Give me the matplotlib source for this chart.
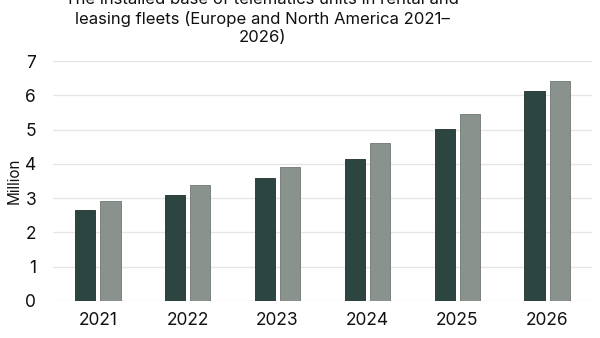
import matplotlib
matplotlib.use("Agg")
import matplotlib.pyplot as plt
import numpy as np

plt.rcParams['font.family'] = ['Inter', 'DejaVu Sans']

years = ["2021", "2022", "2023", "2024", "2025", "2026"]
series_dark = [2.66, 3.09, 3.58, 4.14, 5.02, 6.12]
series_light = [2.93, 3.38, 3.90, 4.60, 5.44, 6.43]
yticks = [0, 1, 2, 3, 4, 5, 6, 7]
title = ("The installed base of telematics units in rental and\n"
         "leasing fleets (Europe and North America 2021\u2013\n"
         "2026)")

fig = plt.figure(figsize=(6, 3.38), dpi=100)
ax = fig.add_axes([0.088, 0.1095, 0.899, 0.71])

x = np.arange(len(years))
w = 0.223
off = 0.142
ax.bar(x - off, series_dark, w, color="#2d4540", edgecolor="#1f302c", linewidth=0.6, zorder=3)
ax.bar(x + off, series_light, w, color="#8a928e", edgecolor="#6f7773", linewidth=0.6, zorder=3)

ax.set_xlim(-0.5, 5.5)
ax.set_ylim(0, 7)
ax.set_yticks(yticks)
ax.set_xticks(x)
ax.set_xticklabels(years)
ax.grid(axis="y", color="#e6e6e6", linewidth=1, zorder=0)
for s in ax.spines.values():
    s.set_visible(False)
ax.tick_params(axis="both", length=0, labelsize=12.5, colors="#111111")
ax.tick_params(axis="y", pad=12)
ax.tick_params(axis="x", pad=8)
ax.set_ylabel("Million", fontsize=11, color="#111111")
ax.yaxis.set_label_coords(-0.058, 0.5)

fig.text(0.437, 0.866, title, ha="center", va="bottom", fontsize=12,
         linespacing=1.3, color="#111111")

fig.savefig("out.png", dpi=100)
